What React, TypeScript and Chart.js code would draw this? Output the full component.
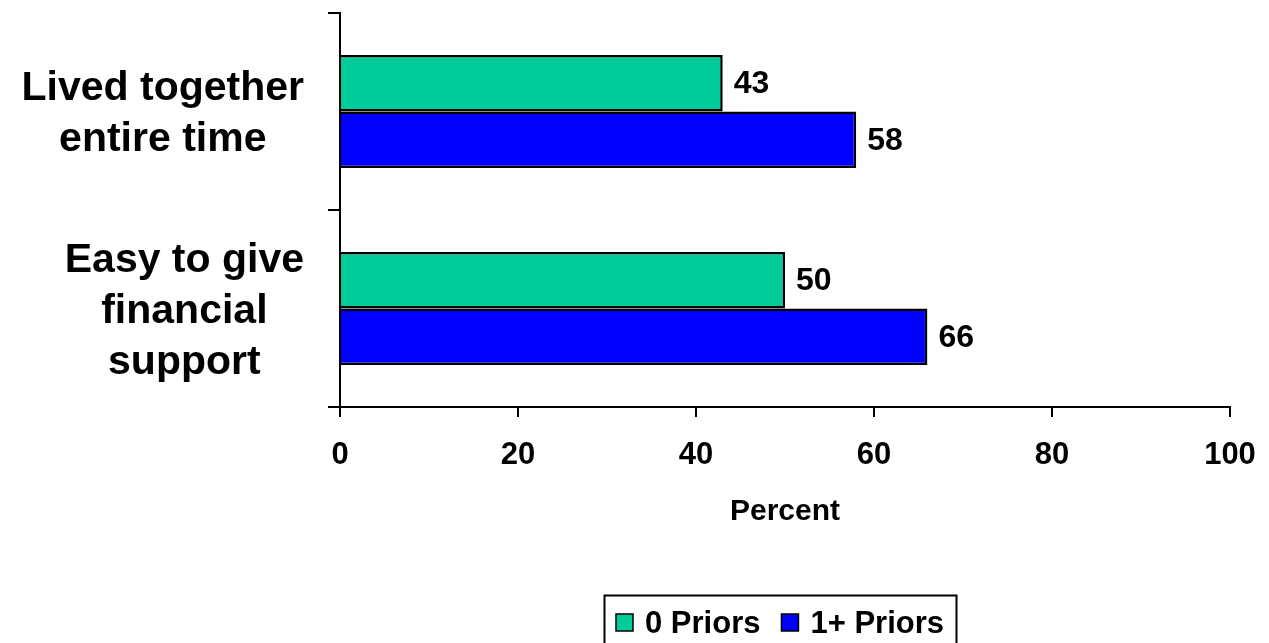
import React, { useEffect, useRef } from "react";
import { Chart, registerables } from "chart.js";

Chart.register(...registerables);

const categories: string[][] = [
  ["Lived together", "entire time"],
  ["Easy to give", "financial", "support"],
];
const seriesNames = ["0 Priors", "1+ Priors"];
const priors0 = [43, 50];
const priors1 = [58, 66];
const seriesColors = ["#00CC99", "#0000FF"];
const xMin = 0;
const xMax = 100;
const xStep = 20;
const xTitle = "Percent";

const FONT = "'Liberation Sans', Arial, Helvetica, sans-serif";

const categoryLabelPlugin = {
  id: "categoryLabels",
  afterDraw(chart: any) {
    const ctx = chart.ctx;
    const y = chart.scales.y;
    ctx.save();
    ctx.font = `bold 41px ${FONT}`;
    ctx.fillStyle = "#000";
    ctx.textAlign = "center";
    ctx.textBaseline = "alphabetic";
    const lineH = 51;
    const capHalf = 14;
    const rightEdge = y.right - 12 - 24;
    categories.forEach((lines, i) => {
      const cy = y.getPixelForValue(i);
      const widest = Math.max(...lines.map((l) => ctx.measureText(l).width));
      const cx = rightEdge - widest / 2;
      const n = lines.length;
      lines.forEach((l, j) => {
        ctx.fillText(l, cx, cy + capHalf + (j - (n - 1) / 2) * lineH);
      });
    });
    ctx.restore();
  },
};

const valueLabelPlugin = {
  id: "valueLabels",
  afterDatasetsDraw(chart: any) {
    const ctx = chart.ctx;
    ctx.save();
    ctx.font = `bold 32px ${FONT}`;
    ctx.fillStyle = "#000";
    ctx.textAlign = "left";
    ctx.textBaseline = "middle";
    chart.data.datasets.forEach((ds: any, di: number) => {
      const meta = chart.getDatasetMeta(di);
      meta.data.forEach((el: any, i: number) => {
        ctx.fillText(String(ds.data[i]), el.x + 11, el.y + 1);
      });
    });
    ctx.restore();
  },
};

const boxLegendPlugin = {
  id: "boxLegend",
  afterDraw(chart: any) {
    const ctx = chart.ctx;
    const area = chart.chartArea;
    ctx.save();
    ctx.font = `bold 31px ${FONT}`;
    const pad = 12;
    const sq = 17;
    const gapSqText = 12;
    const gapItems = 21;
    const items = chart.data.datasets.map((ds: any) => ({
      label: ds.label,
      color: ds.backgroundColor,
      w: ctx.measureText(ds.label).width,
    }));
    let total = pad * 2;
    items.forEach((it: any, i: number) => {
      total += sq + gapSqText + it.w + (i < items.length - 1 ? gapItems : 0);
    });
    const cx = (area.left + area.right) / 2 - 5;
    const left = Math.round(cx - total / 2);
    const top = 595;
    ctx.lineWidth = 2;
    ctx.strokeStyle = "#000";
    ctx.strokeRect(left + 0.5, top + 0.5, total, 80);
    let x = left + pad;
    ctx.textBaseline = "alphabetic";
    ctx.textAlign = "left";
    items.forEach((it: any) => {
      ctx.fillStyle = it.color;
      ctx.fillRect(x, top + 19, sq, sq);
      ctx.lineWidth = 1.5;
      ctx.strokeRect(x, top + 19, sq, sq);
      x += sq + gapSqText;
      ctx.fillStyle = "#000";
      ctx.fillText(it.label, x, top + 38);
      x += it.w + gapItems;
    });
    ctx.restore();
  },
};

export default function App() {
  const ref = useRef<HTMLCanvasElement | null>(null);
  useEffect(() => {
    if (!ref.current) return;
    const chart = new Chart(ref.current, {
      type: "bar",
      data: {
        labels: categories.map((c) => c.join(" ")),
        datasets: [
          {
            label: seriesNames[0],
            data: priors0,
            backgroundColor: seriesColors[0],
            borderColor: "#000",
            borderWidth: 2.5,
          },
          {
            label: seriesNames[1],
            data: priors1,
            backgroundColor: seriesColors[1],
            borderColor: "#000",
            borderWidth: 2.5,
          },
        ],
      },
      options: {
        indexAxis: "y",
        responsive: false,
        animation: false,
        devicePixelRatio: 1,
        layout: { padding: { top: 13, right: 39, left: 0, bottom: 0 } },
        datasets: {
          bar: { categoryPercentage: 0.574, barPercentage: 1.0 },
        },
        plugins: {
          legend: { display: false },
          tooltip: { enabled: false },
        },
        scales: {
          x: {
            type: "linear",
            position: "bottom",
            min: xMin,
            max: xMax,
            afterFit: (s: any) => {
              s.height = 236;
              s.paddingLeft = 0;
              s.paddingRight = 0;
            },
            ticks: {
              stepSize: xStep,
              color: "#000",
              padding: 20,
              font: { family: FONT, size: 31, weight: "bold" },
            },
            grid: {
              display: true,
              drawOnChartArea: false,
              drawTicks: true,
              tickLength: 10,
              color: "#000",
              lineWidth: 2,
            },
            border: { display: true, color: "#000", width: 2 },
            title: {
              display: true,
              text: xTitle,
              color: "#000",
              font: { family: FONT, size: 30, weight: "bold", lineHeight: 1.2 },
              padding: { top: 0, bottom: 113 },
            },
          },
          y: {
            type: "category",
            position: "left",
            afterFit: (s: any) => {
              s.width = 340;
              s.paddingTop = 0;
              s.paddingBottom = 0;
            },
            ticks: { display: false },
            grid: {
              display: true,
              offset: true,
              drawOnChartArea: false,
              drawTicks: true,
              tickLength: 12,
              color: "#000",
              lineWidth: 2,
            },
            border: { display: true, color: "#000", width: 2 },
          },
        },
      },
      plugins: [categoryLabelPlugin, valueLabelPlugin, boxLegendPlugin],
    } as any);
    return () => chart.destroy();
  }, []);
  return (
    <div style={{ position: "absolute", left: 0, top: 0, width: 1269, height: 643, background: "#fff" }}>
      <canvas ref={ref} width={1269} height={643} style={{ display: "block" }} />
    </div>
  );
}
